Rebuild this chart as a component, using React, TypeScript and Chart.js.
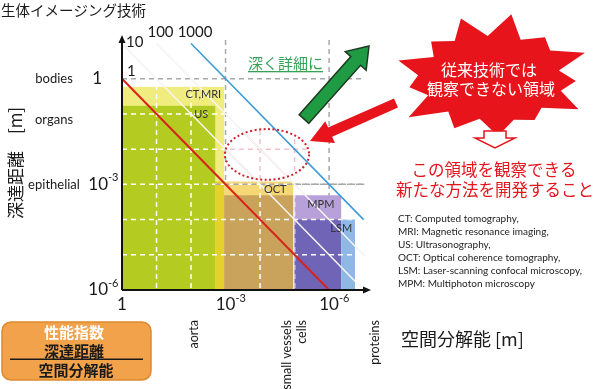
import React, { useEffect, useRef } from 'react';
import { Chart, registerables } from 'chart.js';

Chart.register(...registerables);

const CJK = '"Noto Sans CJK JP", sans-serif';
const LAT = 'Lato, "Noto Sans", sans-serif';

// ---------------- data ----------------
const titleText = '生体イメージング技術';
const xAxisTitle = '空間分解能 [m]';
const yAxisTitle = '深達距離　[m]';
const tickExponents = [0, -3, -6];

const depthNames = ['bodies', 'organs', 'epithelial'];
const depthValues = [1, 10 ** -1.16, 1e-3];

const sizeNames = ['aorta', 'small vessels', 'cells', 'proteins'];
const sizeValues = [10 ** -2.09, 10 ** -4.78, 10 ** -5.22, 10 ** -7.33];

// performance index = depth / resolution
const perfIndex = [1, 10, 100, 1000];
const perfStartRes = [1, 1, 0.1, 0.01];
const perfEndRes = [1e-6, 1e-7, 10 ** -7.04, 1e-7];

// imaging-technology regions: resolution range (m) and maximum depth (m)
const regionLabels = ['CT,MRI', 'US', '', 'OCT', '', 'MPM', '', 'LSM'];
const regionResFrom = [1, 1, 10 ** -2.7, 10 ** -2.96, 10 ** -2.96, 10 ** -5.0, 10 ** -5.0, 10 ** -6.35];
const regionResTo = [10 ** -2.96, 10 ** -2.7, 10 ** -2.96, 10 ** -4.96, 10 ** -4.96, 10 ** -6.35, 10 ** -6.35, 10 ** -6.75];
const regionDepthTop = [10 ** -0.23, 10 ** -0.77, 10 ** -2.92, 10 ** -2.92, 10 ** -3.31, 10 ** -3.31, 10 ** -4.0, 10 ** -4.0];

// unexplored region (ellipse) centre and half-extent in decades
const gapCenterRes = 10 ** -4.2;
const gapCenterDepth = 10 ** -2.15;
const gapHalfDecadesX = 1.22;
const gapHalfDecadesY = 0.72;

const abbreviations = [
  'CT: Computed tomography,',
  'MRI: Magnetic resonance imaging,',
  'US: Ultrasonography,',
  'OCT: Optical coherence tomography,',
  'LSM: Laser-scanning confocal microscopy,',
  'MPM: Multiphoton microscopy',
];
const deeperText = '深く詳細に';
const burstLines = ['従来技術では', '観察できない領域'];
const goalLines = ['この領域を観察できる', '新たな方法を開発すること'];
const indexBoxLines = ['性能指数', '深達距離', '空間分解能'];

// ---------------- styles ----------------
const regionColors = ['#F0EC80', '#B4CC22', '#E4D12C', '#F5D775', '#C9A35C', '#B8A0D8', '#7064B6', '#8FB9E4'];
const perfColors = ['#D8231B', '#F6F6F6', '#F6F6F6', '#3D9AD6'];
const perfWidths = [2, 1.5, 1.5, 1.6];

function drawPow(ctx: CanvasRenderingContext2D, exp: number, x: number, y: number, size: number, anchor: 'center' | 'right') {
  ctx.textBaseline = 'middle';
  if (exp === 0) {
    ctx.font = `${size}px ${LAT}`;
    ctx.textAlign = anchor === 'center' ? 'center' : 'right';
    ctx.fillText('1', anchor === 'center' ? x : x - 6, y);
    return;
  }
  ctx.font = `${size}px ${LAT}`;
  const w = ctx.measureText('10').width;
  const left = anchor === 'center' ? x - w / 2 : x - w;
  ctx.textAlign = 'left';
  ctx.fillText('10', left, y);
  ctx.font = `${Math.round(size * 0.65)}px ${LAT}`;
  ctx.fillText(String(exp), left + w, y - size * 0.38);
}

function arrowPoly(ctx: CanvasRenderingContext2D, x0: number, y0: number, x1: number, y1: number, sh: number, hh: number, hl: number) {
  const dx = x1 - x0, dy = y1 - y0;
  const L = Math.hypot(dx, dy);
  const ux = dx / L, uy = dy / L;
  const nx = -uy, ny = ux;
  const bx = x1 - ux * hl, by = y1 - uy * hl;
  ctx.beginPath();
  ctx.moveTo(x0 + nx * sh, y0 + ny * sh);
  ctx.lineTo(bx + nx * sh, by + ny * sh);
  ctx.lineTo(bx + nx * hh, by + ny * hh);
  ctx.lineTo(x1, y1);
  ctx.lineTo(bx - nx * hh, by - ny * hh);
  ctx.lineTo(bx - nx * sh, by - ny * sh);
  ctx.lineTo(x0 - nx * sh, y0 - ny * sh);
  ctx.closePath();
}

const diagramPlugin = {
  id: 'diagram',
  beforeDatasetsDraw(chart: any) {
    const { ctx, chartArea: ca } = chart;
    const xs = chart.scales.x, ys = chart.scales.y;
    const X = (v: number) => xs.getPixelForValue(v);
    const Y = (v: number) => ys.getPixelForValue(v);
    ctx.save();

    // faint guide traces of the index lines in white area
    ctx.strokeStyle = '#EEEEEE';
    ctx.lineWidth = 1.5;
    [1, 2].forEach((i) => {
      ctx.beginPath();
      ctx.moveTo(X(perfStartRes[i]), Y(perfStartRes[i] * perfIndex[i]));
      ctx.lineTo(X(perfEndRes[i]), Y(perfEndRes[i] * perfIndex[i]));
      ctx.stroke();
    });

    // major grey dashed grid
    ctx.strokeStyle = '#A8A8A8';
    ctx.lineWidth = 1.5;
    ctx.setLineDash([5, 4]);
    [0, -3].forEach((e) => {
      ctx.beginPath();
      ctx.moveTo(ca.left, Y(10 ** e));
      ctx.lineTo(ca.right, Y(10 ** e));
      ctx.stroke();
    });
    [-3, -6].forEach((e) => {
      ctx.beginPath();
      ctx.moveTo(X(10 ** e), ca.top);
      ctx.lineTo(X(10 ** e), ca.bottom);
      ctx.stroke();
    });
    ctx.setLineDash([]);

    // unexplored region: pink grid inside ellipse
    const ecx = X(gapCenterRes), ecy = Y(gapCenterDepth);
    const erx = Math.abs(X(gapCenterRes * 10 ** gapHalfDecadesX) - ecx);
    const ery = Math.abs(Y(gapCenterDepth * 10 ** gapHalfDecadesY) - ecy);
    ctx.save();
    ctx.beginPath();
    ctx.ellipse(ecx, ecy, erx, ery, 0, 0, Math.PI * 2);
    ctx.clip();
    ctx.strokeStyle = '#F1C2CC';
    ctx.lineWidth = 1.5;
    ctx.setLineDash([5, 4]);
    [-2].forEach((e) => {
      ctx.beginPath();
      ctx.moveTo(ca.left, Y(10 ** e));
      ctx.lineTo(ca.right, Y(10 ** e));
      ctx.stroke();
    });
    [-4, -5].forEach((e) => {
      ctx.beginPath();
      ctx.moveTo(X(10 ** e), ca.top);
      ctx.lineTo(X(10 ** e), ca.bottom);
      ctx.stroke();
    });
    ctx.setLineDash([]);
    [1, 2].forEach((i) => {
      ctx.beginPath();
      ctx.moveTo(X(perfStartRes[i]), Y(perfStartRes[i] * perfIndex[i]));
      ctx.lineTo(X(perfEndRes[i]), Y(perfEndRes[i] * perfIndex[i]));
      ctx.stroke();
    });
    ctx.restore();

    // technology regions
    const bottom = Y(1e-6);
    regionResFrom.forEach((r, i) => {
      const x0 = X(r), x1 = X(regionResTo[i]);
      const y0 = Y(regionDepthTop[i]);
      ctx.fillStyle = regionColors[i];
      ctx.fillRect(x0, y0, x1 - x0, bottom - y0);
    });

    // white dashed grid inside regions
    ctx.save();
    ctx.beginPath();
    regionResFrom.forEach((r, i) => {
      const x0 = X(r), x1 = X(regionResTo[i]);
      const y0 = Y(regionDepthTop[i]);
      ctx.rect(x0, y0, x1 - x0, bottom - y0);
    });
    ctx.clip();
    ctx.strokeStyle = '#FFFFFF';
    ctx.lineWidth = 1.5;
    ctx.setLineDash([5, 4]);
    [-1, -2, -3, -4, -5].forEach((e) => {
      ctx.beginPath();
      ctx.moveTo(ca.left, Y(10 ** e));
      ctx.lineTo(ca.right, Y(10 ** e));
      ctx.stroke();
    });
    [-1, -2, -4, -5].forEach((e) => {
      ctx.beginPath();
      ctx.moveTo(X(10 ** e), ca.top);
      ctx.lineTo(X(10 ** e), ca.bottom);
      ctx.stroke();
    });
    ctx.restore();

    // grey 1e-3 line over OCT band
    ctx.strokeStyle = '#A8A8A8';
    ctx.setLineDash([5, 4]);
    ctx.beginPath();
    ctx.moveTo(X(10 ** -2.7), Y(1e-3));
    ctx.lineTo(ca.right, Y(1e-3));
    ctx.stroke();
    ctx.setLineDash([]);
    ctx.restore();
  },
  afterDatasetsDraw(chart: any) {
    const { ctx, chartArea: ca } = chart;
    const xs = chart.scales.x, ys = chart.scales.y;
    const X = (v: number) => xs.getPixelForValue(v);
    const Y = (v: number) => ys.getPixelForValue(v);
    ctx.save();

    // region labels
    ctx.fillStyle = '#333333';
    ctx.font = `11px ${LAT}`;
    ctx.textBaseline = 'middle';
    regionLabels.forEach((lab, i) => {
      if (!lab) return;
      const x0 = X(regionResFrom[i]), x1 = X(regionResTo[i]);
      const y0 = Y(regionDepthTop[i]);
      let tx = (x0 + x1) / 2, ty = y0 + 9;
      ctx.textAlign = 'center';
      if (lab === 'CT,MRI') { ctx.textAlign = 'right'; tx = x1 - 3; ty = y0 + 8; }
      if (lab === 'US') { tx = x1 - 14; ty = y0 + 9; }
      if (lab === 'OCT') { tx = x1 - 18; ty = y0 + 8; }
      if (lab === 'MPM') { tx = (x0 + x1) / 2 + 3; ty = y0 + 9; }
      if (lab === 'LSM') { tx = x0; ty = y0 + 9; }
      ctx.fillText(lab, tx, ty);
    });

    // dotted ellipse
    const ecx = X(gapCenterRes), ecy = Y(gapCenterDepth);
    const erx = Math.abs(X(gapCenterRes * 10 ** gapHalfDecadesX) - ecx);
    const ery = Math.abs(Y(gapCenterDepth * 10 ** gapHalfDecadesY) - ecy);
    ctx.strokeStyle = '#D0202C';
    ctx.lineWidth = 2;
    ctx.setLineDash([2, 2.5]);
    ctx.beginPath();
    ctx.ellipse(ecx, ecy, erx, ery, 0, 0, Math.PI * 2);
    ctx.stroke();
    ctx.setLineDash([]);

    // axes with arrows
    ctx.strokeStyle = '#111';
    ctx.fillStyle = '#111';
    ctx.lineWidth = 2;
    ctx.beginPath();
    ctx.moveTo(ca.left, ca.bottom);
    ctx.lineTo(ca.left, ca.top - 2);
    ctx.moveTo(ca.left, ca.bottom);
    ctx.lineTo(ca.right + 2, ca.bottom);
    ctx.stroke();
    ctx.beginPath();
    ctx.moveTo(ca.left, ca.top - 5);
    ctx.lineTo(ca.left - 3.5, ca.top + 3);
    ctx.lineTo(ca.left + 3.5, ca.top + 3);
    ctx.closePath();
    ctx.fill();
    ctx.beginPath();
    ctx.moveTo(ca.right + 6, ca.bottom);
    ctx.lineTo(ca.right - 2, ca.bottom - 3.5);
    ctx.lineTo(ca.right - 2, ca.bottom + 3.5);
    ctx.closePath();
    ctx.fill();

    // tick labels
    ctx.fillStyle = '#1a1a1a';
    tickExponents.forEach((e) => {
      drawPow(ctx, e, X(10 ** e), ca.bottom + 15, 17, 'center');
      drawPow(ctx, e, ca.left - 14, Y(10 ** e), 17, 'right');
    });

    // performance index labels
    ctx.font = `15px ${LAT}`;
    ctx.textBaseline = 'middle';
    ctx.textAlign = 'left';
    ctx.fillText(String(perfIndex[0]), X(perfStartRes[0]) + 5, Y(perfIndex[0]) - 8);
    ctx.fillText(String(perfIndex[1]), X(perfStartRes[1]) + 4, Y(perfIndex[1]) - 1);
    ctx.textAlign = 'center';
    ctx.fillText(String(perfIndex[2]), X(perfStartRes[2]) + 4, Y(perfStartRes[2] * perfIndex[2]) - 11);
    ctx.fillText(String(perfIndex[3]), X(perfStartRes[3]) + 4, Y(perfStartRes[3] * perfIndex[3]) - 11);

    // depth category labels
    ctx.font = `13px ${LAT}`;
    ctx.textAlign = 'center';
    depthNames.forEach((n, i) => {
      ctx.fillText(n, 54, Y(depthValues[i]));
    });

    // size category labels (rotated)
    ctx.font = `12.5px ${LAT}`;
    sizeNames.forEach((n, i) => {
      ctx.save();
      ctx.translate(X(sizeValues[i]), ca.bottom + 30);
      ctx.rotate(-Math.PI / 2);
      ctx.textAlign = 'right';
      ctx.textBaseline = 'middle';
      ctx.fillText(n, 0, 0);
      ctx.restore();
    });

    // titles
    ctx.fillStyle = '#1a1a1a';
    ctx.font = `14.5px ${CJK}`;
    ctx.textAlign = 'left';
    ctx.textBaseline = 'middle';
    ctx.fillText(titleText, 1, 10);
    ctx.font = `18px ${CJK}`;
    ctx.fillText(xAxisTitle, 401, 339);
    ctx.save();
    ctx.translate(16, 163);
    ctx.rotate(-Math.PI / 2);
    ctx.textAlign = 'center';
    ctx.font = `17px ${CJK}`;
    ctx.fillText(yAxisTitle, 0, 0);
    ctx.restore();

    // abbreviations
    ctx.font = `10px ${LAT}`;
    ctx.fillStyle = '#222';
    ctx.textAlign = 'left';
    abbreviations.forEach((t, i) => ctx.fillText(t, 398, 219 + i * 13));

    // green text
    ctx.font = `15px ${CJK}`;
    ctx.fillStyle = '#34A257';
    ctx.textAlign = 'left';
    ctx.fillText(deeperText, 248, 63);
    const gw = ctx.measureText(deeperText).width;
    ctx.fillRect(248, 71, gw, 1.3);

    // green arrow
    arrowPoly(ctx, 304, 119, 369, 46, 6.5, 14, 20);
    ctx.fillStyle = '#1E9B43';
    ctx.fill();
    ctx.strokeStyle = '#1F3A22';
    ctx.lineWidth = 1.5;
    ctx.stroke();

    // red arrow
    arrowPoly(ctx, 396, 103, 310, 141, 5, 12, 22);
    ctx.fillStyle = '#E8141C';
    ctx.fill();

    // starburst
    const cx = 492, cy = 78;
    const outer = [108, 86, 102, 84, 101, 82, 97, 92, 106, 84, 98, 86, 104];
    const inner = [70, 74, 68, 72, 70, 73, 69, 71, 70, 74, 68, 72, 70];
    const n = outer.length;
    ctx.beginPath();
    for (let k = 0; k < n * 2; k++) {
      const a = -Math.PI / 2 + (k * Math.PI) / n + 0.18;
      const r = k % 2 === 0 ? outer[k / 2] : inner[(k - 1) / 2];
      const px = cx + Math.cos(a) * r;
      const py = cy + Math.sin(a) * r * 0.6;
      if (k === 0) ctx.moveTo(px, py); else ctx.lineTo(px, py);
    }
    ctx.closePath();
    ctx.fillStyle = '#E8141C';
    ctx.fill();
    ctx.fillStyle = '#FFFFFF';
    ctx.font = `16px ${CJK}`;
    ctx.textAlign = 'center';
    ctx.fillText(burstLines[0], 489, 70);
    ctx.fillText(burstLines[1], 491, 89);

    // hollow down arrow
    ctx.beginPath();
    ctx.moveTo(484, 131);
    ctx.lineTo(506, 131);
    ctx.lineTo(506, 138);
    ctx.lineTo(515, 138);
    ctx.lineTo(495, 148);
    ctx.lineTo(475, 138);
    ctx.lineTo(484, 138);
    ctx.closePath();
    ctx.fillStyle = '#FFFFFF';
    ctx.fill();
    ctx.strokeStyle = '#E8141C';
    ctx.lineWidth = 1.5;
    ctx.stroke();

    // goal text
    ctx.fillStyle = '#E3161D';
    ctx.font = `16.5px ${CJK}`;
    ctx.fillText(goalLines[0], 494, 170);
    ctx.fillText(goalLines[1], 495, 190);

    // index box
    const bx = 2, by = 322, bw = 149, bh = 58, rr = 9;
    ctx.beginPath();
    ctx.moveTo(bx + rr, by);
    ctx.arcTo(bx + bw, by, bx + bw, by + bh, rr);
    ctx.arcTo(bx + bw, by + bh, bx, by + bh, rr);
    ctx.arcTo(bx, by + bh, bx, by, rr);
    ctx.arcTo(bx, by, bx + bw, by, rr);
    ctx.closePath();
    ctx.fillStyle = '#F2A24A';
    ctx.fill();
    ctx.strokeStyle = '#DD8A2E';
    ctx.lineWidth = 1.5;
    ctx.stroke();
    ctx.font = `bold 15px ${CJK}`;
    ctx.textAlign = 'center';
    ctx.fillStyle = '#FFFFFF';
    ctx.fillText(indexBoxLines[0], 74, 332);
    ctx.fillStyle = '#1a1a1a';
    ctx.fillText(indexBoxLines[1], 74, 351);
    ctx.fillRect(10, 358.5, 133, 1.5);
    ctx.fillText(indexBoxLines[2], 76, 370);

    ctx.restore();
  },
};

export default function App() {
  const ref = useRef<HTMLCanvasElement | null>(null);
  useEffect(() => {
    if (!ref.current) return;
    const chart = new Chart(ref.current, {
      type: 'line',
      data: {
        datasets: perfIndex.map((p, i) => ({
          label: String(p),
          data: [
            { x: perfStartRes[i], y: perfStartRes[i] * p },
            { x: perfEndRes[i], y: perfEndRes[i] * p },
          ],
          borderColor: perfColors[i],
          borderWidth: perfWidths[i],
          pointRadius: 0,
          fill: false,
          tension: 0,
        })),
      },
      options: {
        responsive: false,
        animation: false,
        events: [],
        layout: { padding: { left: 122, right: 235, top: 40, bottom: 99 } },
        plugins: { legend: { display: false }, tooltip: { enabled: false } },
        scales: {
          x: { type: 'logarithmic', reverse: true, min: 10 ** -7.04, max: 1, display: false, bounds: 'data' },
          y: { type: 'logarithmic', min: 1e-6, max: 10 ** 1.1, display: false, bounds: 'data' },
        },
      } as any,
      plugins: [diagramPlugin],
    });
    return () => chart.destroy();
  }, []);
  return (
    <div style={{ position: 'absolute', left: 0, top: 0, width: 600, height: 389, background: '#fff' }}>
      <canvas ref={ref} width={600} height={389} />
    </div>
  );
}
